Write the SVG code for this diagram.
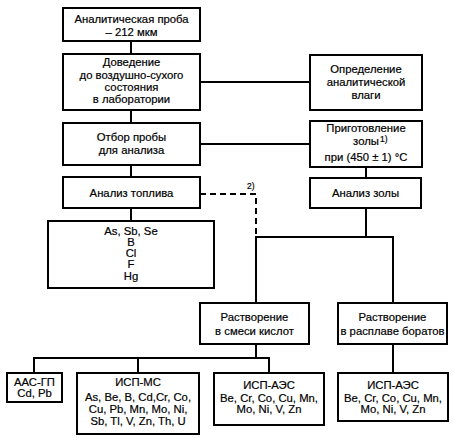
<svg xmlns="http://www.w3.org/2000/svg" width="454" height="438" viewBox="0 0 454 438">
<style>
rect.b{fill:#fff;stroke:#000;stroke-width:2}
text{font-family:"Liberation Sans",Arial,sans-serif;font-size:11.3px;fill:#000;text-anchor:middle;stroke:#000;stroke-width:0.2}
text.s{font-size:8.5px;text-anchor:start}
.c line,.c polyline{stroke:#000;stroke-width:2;fill:none}
.c .d{stroke-dasharray:6,4}
</style>
<rect width="454" height="438" fill="#fff"/>
<g class="c" id="connectors">
<line x1="131" y1="41" x2="131" y2="54"/>
<line x1="131" y1="110" x2="131" y2="123"/>
<line x1="131" y1="165" x2="131" y2="177"/>
<line x1="131" y1="208" x2="131" y2="221"/>
<line x1="200" y1="82" x2="310" y2="82"/>
<line x1="200" y1="144" x2="310" y2="144"/>
<line x1="366" y1="167" x2="366" y2="178"/>
<line x1="366" y1="208" x2="366" y2="237"/>
<polyline points="256,303 256,237 393,237 393,303"/>
<polyline class="d" points="200,194 256,194 256,237"/>
<line x1="256" y1="344" x2="256" y2="358"/>
<polyline points="34,373 34,358 269,358 269,373"/>
<line x1="138" y1="358" x2="138" y2="373"/>
<line x1="393" y1="344" x2="393" y2="373"/>
<text class="s" x="247" y="189">2)</text>
</g>
<g id="n1"><rect class="b" x="63" y="8" width="137" height="33"/><text x="131.5" y="23">Аналитическая проба</text><text x="131.5" y="36">– 212 мкм</text></g>
<g id="n2"><rect class="b" x="63" y="54" width="137" height="56"/><text x="131.5" y="66">Доведение</text><text x="131.5" y="79">до воздушно-сухого</text><text x="131.5" y="91">состояния</text><text x="131.5" y="103">в лаборатории</text></g>
<g id="n3"><rect class="b" x="63" y="123" width="137" height="42"/><text x="131.5" y="141">Отбор пробы</text><text x="131.5" y="154">для анализа</text></g>
<g id="n4"><rect class="b" x="310" y="55" width="112" height="55"/><text x="366" y="73">Определение</text><text x="366" y="86">аналитической</text><text x="366" y="99">влаги</text></g>
<g id="n5"><rect class="b" x="310" y="121" width="112" height="46"/><text x="366" y="132">Приготовление</text><text x="366" y="145">золы</text><text class="s" x="380" y="142">1)</text><text x="366" y="161">при (450 ± 1) °C</text></g>
<g id="n6"><rect class="b" x="63" y="177" width="137" height="31"/><text x="131.5" y="197">Анализ топлива</text></g>
<g id="n7"><rect class="b" x="310" y="178" width="111" height="30"/><text x="365.5" y="197">Анализ золы</text></g>
<g id="n8"><rect class="b" x="48" y="221" width="166" height="67"/><text x="131" y="235">As, Sb, Se</text><text x="131" y="246">B</text><text x="131" y="257">Cl</text><text x="131" y="268">F</text><text x="131" y="280">Hg</text></g>
<g id="n9"><rect class="b" x="200" y="303" width="109" height="41"/><text x="254.5" y="321">Растворение</text><text x="254.5" y="335">в смеси кислот</text></g>
<g id="n10"><rect class="b" x="338" y="303" width="109" height="41"/><text x="392.5" y="321">Растворение</text><text x="392.5" y="335">в расплаве боратов</text></g>
<g id="n11"><rect class="b" x="7" y="373" width="55" height="29"/><text x="34.5" y="386">ААС-ГП</text><text x="34.5" y="397">Cd, Pb</text></g>
<g id="n12"><rect class="b" x="77" y="373" width="122" height="61"/><text x="138" y="386">ИСП-МС</text><text x="138" y="401">As, Be, B, Cd,Cr, Co,</text><text x="138" y="413">Cu, Pb, Mn, Mo, Ni,</text><text x="138" y="425">Sb, Tl, V, Zn, Th, U</text></g>
<g id="n13"><rect class="b" x="214" y="373" width="110" height="52"/><text x="269" y="389">ИСП-АЭС</text><text x="269" y="402">Be, Cr, Co, Cu, Mn,</text><text x="269" y="413">Mo, Ni, V, Zn</text></g>
<g id="n14"><rect class="b" x="338" y="373" width="110" height="48"/><text x="393" y="389">ИСП-АЭС</text><text x="393" y="402">Be, Cr, Co, Cu, Mn,</text><text x="393" y="413">Mo, Ni, V, Zn</text></g>
</svg>
